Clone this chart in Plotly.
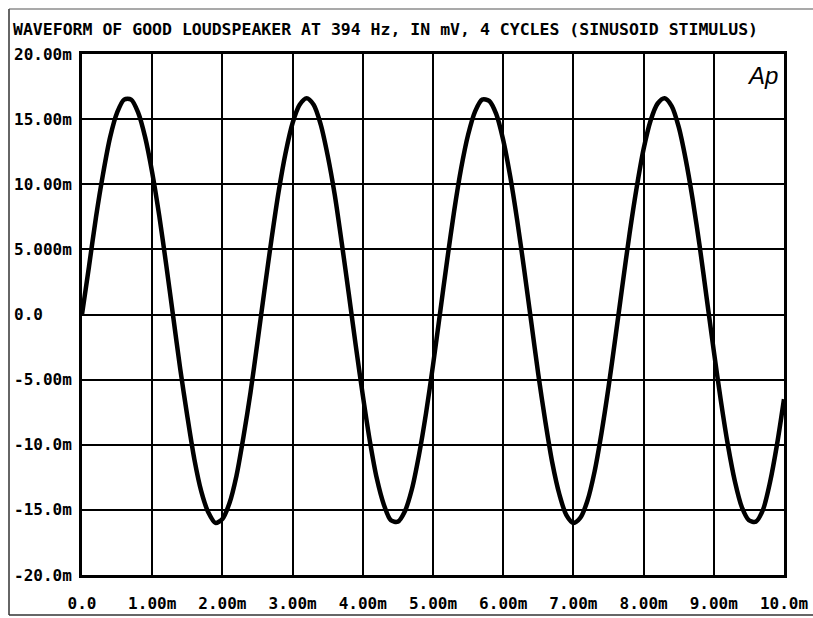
import plotly.graph_objects as go

# time in ms, voltage in mV
time_ms = [0.0, 0.1, 0.2, 0.3, 0.4, 0.5, 0.6, 0.7, 0.8, 0.9,
           1.0, 1.1, 1.2, 1.3, 1.4, 1.5, 1.6, 1.7, 1.8, 1.9,
           2.0, 2.1, 2.2, 2.3, 2.4, 2.5, 2.6, 2.7, 2.8, 2.9,
           3.0, 3.1, 3.2, 3.3, 3.4, 3.5, 3.6, 3.7, 3.8, 3.9,
           4.0, 4.1, 4.2, 4.3, 4.4, 4.5, 4.6, 4.7, 4.8, 4.9,
           5.0, 5.1, 5.2, 5.3, 5.4, 5.5, 5.6, 5.7, 5.8, 5.9,
           6.0, 6.1, 6.2, 6.3, 6.4, 6.5, 6.6, 6.7, 6.8, 6.9,
           7.0, 7.1, 7.2, 7.3, 7.4, 7.5, 7.6, 7.7, 7.8, 7.9,
           8.0, 8.1, 8.2, 8.3, 8.4, 8.5, 8.6, 8.7, 8.8, 8.9,
           9.0, 9.1, 9.2, 9.3, 9.4, 9.5, 9.6, 9.7, 9.8, 9.9, 10.0]
voltage_mv = [0.0, 3.7, 7.5, 10.8, 13.6, 15.5, 16.5, 16.5, 15.5, 13.6,
              10.9, 7.6, 3.8, -0.2, -4.2, -7.8, -11.1, -13.6, -15.2, -16.0,
              -15.7, -14.5, -12.4, -9.4, -6.0, -2.1, 1.9, 5.8, 9.4, 12.4,
              14.7, 16.1, 16.6, 16.1, 14.6, 12.2, 9.2, 5.5, 1.6, -2.4,
              -6.2, -9.7, -12.6, -14.6, -15.8, -15.9, -15.1, -13.4, -10.8, -7.6,
              -3.9, 0.1, 4.1, 7.9, 11.2, 13.8, 15.6, 16.5, 16.4, 15.4,
              13.4, 10.6, 7.2, 3.4, -0.6, -4.6, -8.2, -11.4, -13.8, -15.4,
              -16.0, -15.6, -14.3, -12.1, -9.1, -5.6, -1.7, 2.3, 6.2, 9.7,
              12.7, 14.9, 16.2, 16.6, 16.0, 14.4, 11.9, 8.8, 5.2, 1.2,
              -2.8, -6.6, -10.0, -12.8, -14.8, -15.8, -15.9, -15.0, -12.9, -10.0, -6.5]

x_tick_vals = [0, 1, 2, 3, 4, 5, 6, 7, 8, 9, 10]
x_tick_text = ["0.0", "1.00m", "2.00m", "3.00m", "4.00m", "5.00m",
               "6.00m", "7.00m", "8.00m", "9.00m", "10.0m"]
y_tick_vals = [20, 15, 10, 5, 0, -5, -10, -15, -20]
y_tick_text = ["20.00m", "15.00m", "10.00m", "5.000m", "0.0",
               "-5.00m", "-10.0m", "-15.0m", "-20.0m"]

title_text = "WAVEFORM OF GOOD LOUDSPEAKER AT 394 Hz, IN mV, 4 CYCLES (SINUSOID STIMULUS)"

W, H = 813, 618
ML, MR, MT, MB = 82, 29, 54, 43
PW = W - ML - MR
PH = H - MT - MB
MONO = "DejaVu Sans Mono"

fig = go.Figure()
fig.add_trace(go.Scatter(
    x=time_ms, y=voltage_mv, mode="lines",
    line=dict(color="black", width=4.5, shape="spline", smoothing=0.8),
    hoverinfo="skip", showlegend=False,
))

annotations = []
for v, t in zip(y_tick_vals, y_tick_text):
    annotations.append(dict(
        x=(12 - ML) / PW, xref="paper", y=v, yref="y",
        text=t, showarrow=False, xanchor="left", yanchor="middle",
        font=dict(family=MONO, size=16, color="black", weight="bold"),
    ))
annotations.append(dict(
    x=(11 - ML) / PW, xref="paper", y=1 + (MT - 29) / PH, yref="paper",
    text=title_text, showarrow=False, xanchor="left", yanchor="middle",
    font=dict(family=MONO, size=16.5, color="black", weight="bold"),
))
annotations.append(dict(
    x=(762 - ML) / PW, xref="paper", y=1 - (76 - MT) / PH, yref="paper",
    text="<i>Ap</i>", showarrow=False, xanchor="center", yanchor="middle",
    font=dict(family="Liberation Sans", size=24, color="black"),
))

shapes = [
    # outer frame of the page (left, top, bottom)
    dict(type="line", xref="paper", yref="paper",
         x0=(9 - ML) / PW, x1=(9 - ML) / PW,
         y0=1 + (MT - 9) / PH, y1=-(615 - MT - PH) / PH,
         line=dict(color="#333333", width=1.5)),
    dict(type="line", xref="paper", yref="paper",
         x0=(9 - ML) / PW, x1=(W - ML) / PW,
         y0=1 + (MT - 9) / PH, y1=1 + (MT - 9) / PH,
         line=dict(color="#555555", width=1.2)),
    dict(type="line", xref="paper", yref="paper",
         x0=(9 - ML) / PW, x1=(W - ML) / PW,
         y0=-(615 - MT - PH) / PH, y1=-(615 - MT - PH) / PH,
         line=dict(color="#333333", width=1.5)),
]

fig.update_layout(
    width=W, height=H,
    margin=dict(l=ML, r=MR, t=MT, b=MB, pad=0),
    paper_bgcolor="white", plot_bgcolor="white",
    annotations=annotations, shapes=shapes,
    font=dict(family=MONO, color="black"),
)
fig.update_xaxes(
    range=[0, 10], tickvals=x_tick_vals, ticktext=x_tick_text,
    showgrid=True, gridcolor="black", gridwidth=2,
    showline=True, linecolor="black", linewidth=2.5, mirror=True,
    zeroline=False, ticks="", automargin=False, ticklabelstandoff=12,
    tickfont=dict(family=MONO, size=16, color="black", weight="bold"),
)
fig.update_yaxes(
    range=[-20, 20], tickvals=y_tick_vals, showticklabels=False,
    showgrid=True, gridcolor="black", gridwidth=2,
    showline=True, linecolor="black", linewidth=2.5, mirror=True,
    zeroline=False, ticks="", automargin=False,
)

fig.write_html("out.html",
               config={"displayModeBar": False},
               post_script="document.body.style.margin='0';document.body.style.overflow='hidden';")
